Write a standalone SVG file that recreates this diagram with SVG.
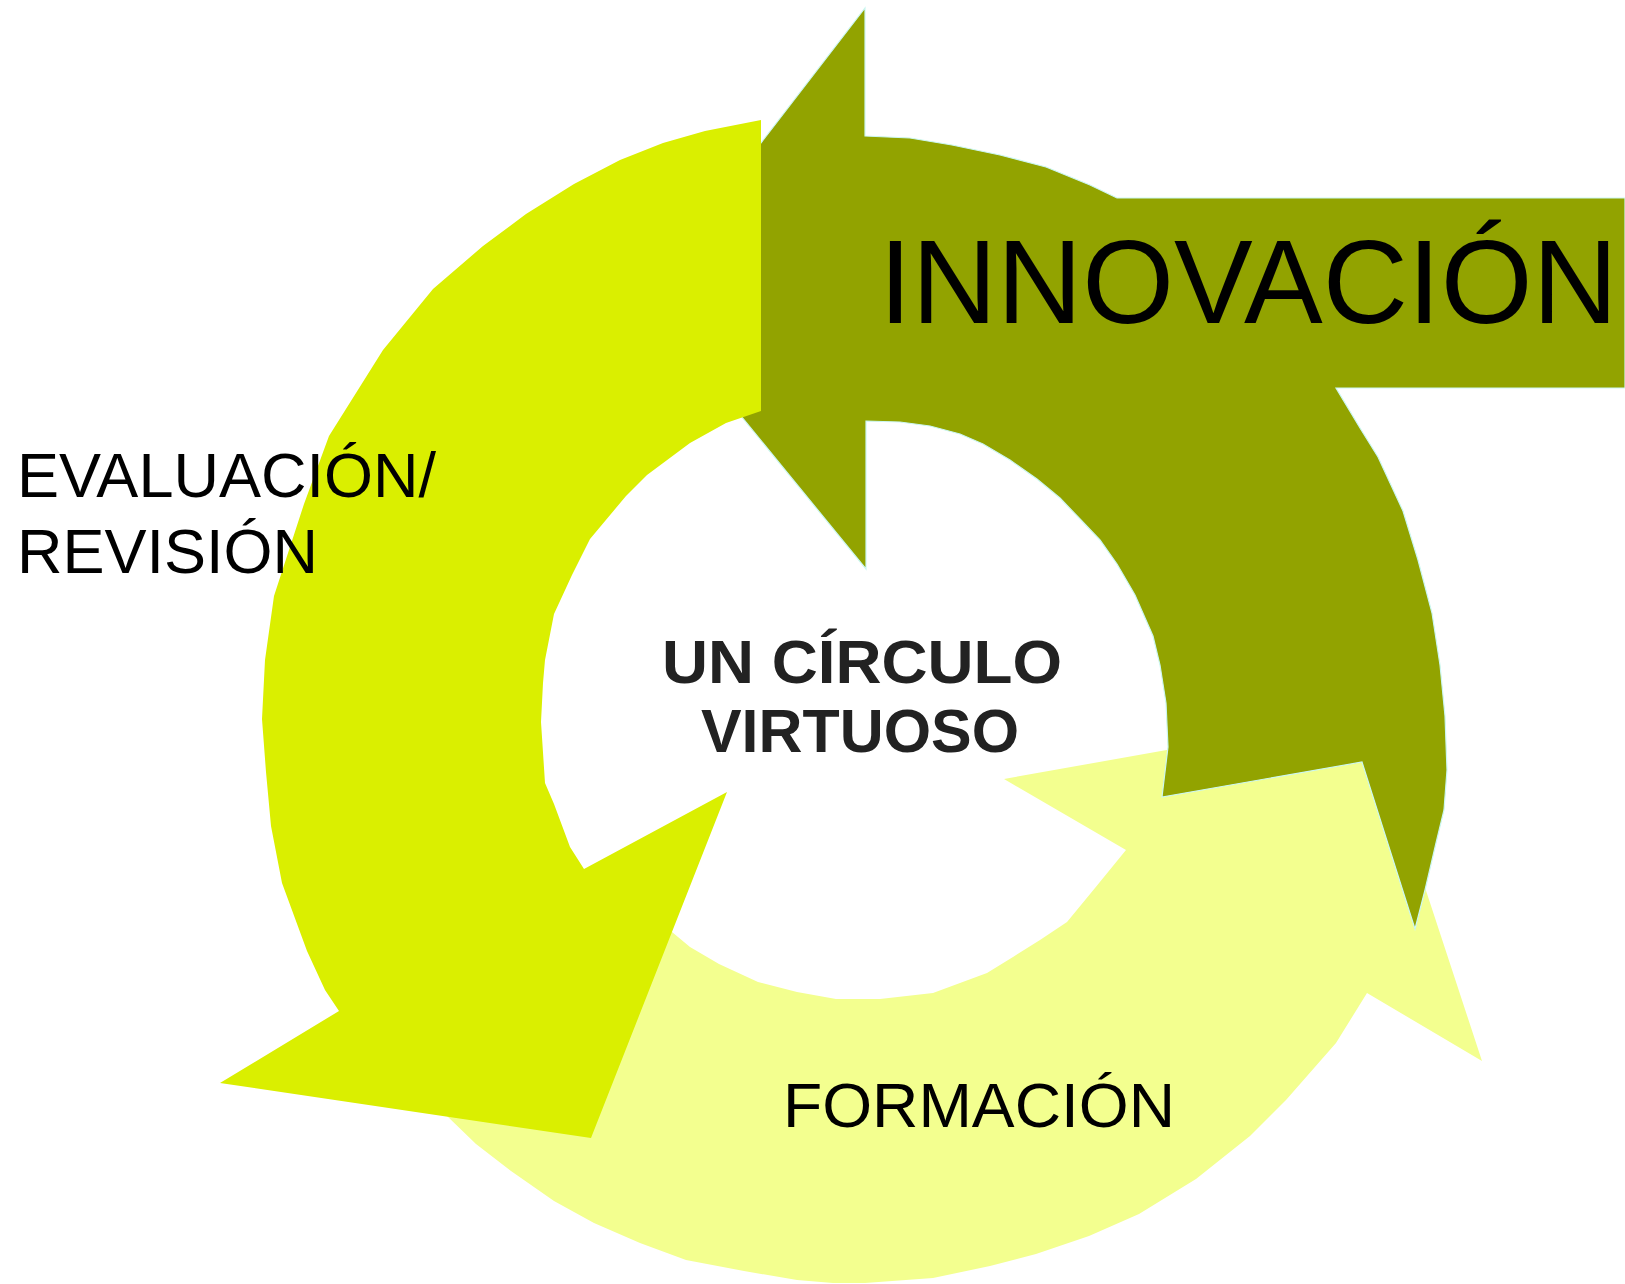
<svg xmlns="http://www.w3.org/2000/svg" width="1625" height="1284" viewBox="0 0 1625 1284">
<style>
.lbl{font-family:"Liberation Sans",Arial,sans-serif;fill:#000}
.ctr{font-family:"Liberation Sans",Arial,sans-serif;font-weight:bold;fill:#222222}
.light{fill:#F3FF8F}
.dark{fill:#92A300;stroke:#CCF7F2;stroke-width:1.2;stroke-linejoin:miter}
.yel{fill:#DAEF00}
</style>
<rect width="1625" height="1284" fill="#ffffff"/>
<g id="node-formacion">
<polygon class="light" points="625,870 650,905 672,932 690,947 719,964 758,982 797,992 836,999 880,999 933,993 987,973 1013,957 1040,940 1067,922 1095,888 1126,850 1004,779 1368,714 1482,1061 1367,993 1336,1043 1286,1100 1250,1136 1196,1179 1139,1214 1089,1236 1036,1254 990,1266 933,1278 865,1283 833,1283 797,1280 744,1271 686,1260 640,1243 594,1223 554,1201 511,1171 476,1144 447,1116 420,1085"/>
<text class="lbl" x="783" y="1127" font-size="63" textLength="392" lengthAdjust="spacingAndGlyphs">FORMACIÓN</text>
</g>
<g id="node-innovacion">
<polygon class="dark" points="865,8 865,136 910,138 952,145 1000,155 1046,167 1090,185 1117,198 1625,198 1625,388 1336,388 1360,428 1378,457 1403,511 1418,560 1432,613 1440,665 1445,716 1447,770 1444,810 1436,843 1425,890 1415,929 1362,762 1162,797 1168,747 1166,703 1160,665 1153,636 1135,595 1117,564 1100,540 1081,520 1060,498 1037,479 1010,460 983,444 960,434 930,426 900,422 866,421 866,569 643,296"/>
<text class="lbl" x="879" y="323" font-size="118">INNOVACIÓN</text>
</g>
<g id="node-evaluacion">
<polygon class="yel" points="761,120 761,411 726,423 690,443 647,475 626,496 590,539 572,575 554,614 545,660 543,683 541,722 545,783 554,804 570,847 584,869 727,792 591,1138 220,1083 339,1011 325,990 307,951 282,883 271,826 266,772 262,719 265,660 274,596 304,504 329,436 383,350 433,289 483,246 526,214 574,184 620,160 663,143 705,131"/>
<text class="lbl" x="17" y="497" font-size="63">EVALUACIÓN/</text>
<text class="lbl" x="17" y="573" font-size="63">REVISIÓN</text>
</g>
<g id="node-center">
<text class="ctr" x="862" y="683" font-size="61" text-anchor="middle" textLength="400" lengthAdjust="spacingAndGlyphs">UN CÍRCULO</text>
<text class="ctr" x="860" y="752" font-size="61" text-anchor="middle" textLength="318" lengthAdjust="spacingAndGlyphs">VIRTUOSO</text>
</g>
</svg>
